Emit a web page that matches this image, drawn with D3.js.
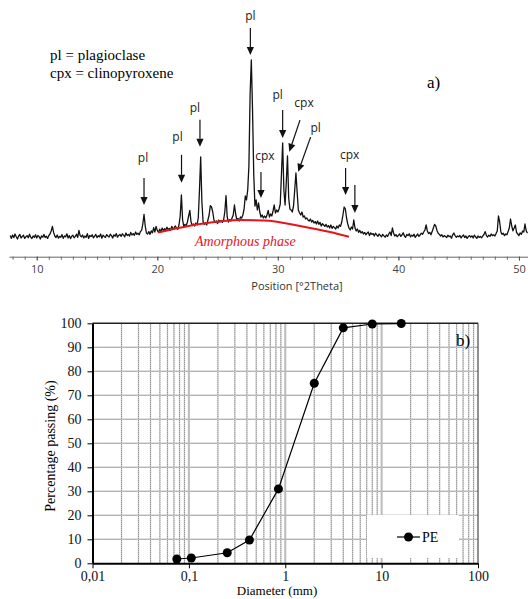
<!DOCTYPE html>
<html>
<head>
<meta charset="utf-8">
<script src="https://cdn.jsdelivr.net/npm/d3@7"></script>
<style>
body{margin:0;background:#fff;}
svg{display:block;}
</style>
</head>
<body>
<script>
//---- panel a: XRD pattern ----
//counts, one value every 0.1 deg from 7.8 deg
var twoThetaStart = 7.8,
    twoThetaStep = 0.1;

var intensity = [
    72, 58,
    75, 62, 80, 66, 55, 70, 78, 60, 68, 74,       // 8
    58, 66, 72, 61, 79, 64, 57, 70, 63, 76,       // 9
    60, 73, 67, 55, 71, 64, 78, 62, 69, 58,       // 10
    72, 80, 95, 118, 88, 70, 62, 75, 59, 68,      // 11
    64, 77, 58, 70, 66, 81, 60, 72, 57, 69,       // 12
    74, 61, 68, 79, 63, 98, 72, 66, 75, 60,       // 13
    70, 64, 82, 58, 73, 67, 76, 61, 69, 78,       // 14
    62, 71, 66, 80, 59, 74, 68, 63, 77, 70,       // 15
    65, 79, 72, 60, 76, 69, 82, 64, 73, 78,       // 16
    68, 81, 74, 66, 85, 72, 78, 70, 88, 75,       // 17
    82, 73, 90, 78, 84, 76, 92, 98, 130, 178,     // 18
    120, 85, 80, 92, 78, 96, 86, 112, 90, 118,    // 19
    98, 88, 104, 92, 110, 97, 106, 100, 114, 103, // 20
    108, 98, 118, 106, 112, 120, 110, 104, 125, 170, // 21
    275, 150, 118, 128, 122, 140, 170, 198, 140, 122, // 22
    130, 120, 135, 125, 160, 300, 465, 240, 140, 128, // 23
    135, 125, 150, 175, 222, 215, 190, 150, 138, 145, // 24
    132, 150, 140, 148, 138, 150, 190, 272, 165, 140, // 25
    152, 145, 160, 175, 225, 180, 150, 158, 145, 165, // 26
    160, 175, 205, 270, 250, 300, 420, 780, 950, 700, // 27
    380, 220, 250, 200, 235, 190, 165, 175, 160, 170, // 28
    160, 175, 198, 165, 180, 170, 195, 225, 185, 200, // 29
    190, 205, 230, 380, 535, 300, 225, 340, 470, 260, // 30
    205, 200, 190, 220, 300, 385, 290, 200, 185, 175, // 31
    190, 165, 170, 155, 160, 150, 145, 155, 140, 148, // 32
    135, 142, 130, 145, 128, 138, 120, 132, 125, 118, // 33
    128, 115, 122, 110, 125, 108, 118, 112, 105, 120, // 34
    110, 125, 118, 140, 175, 215, 205, 160, 130, 110, // 35
    100, 115, 105, 150, 110, 95, 105, 88, 98, 85,     // 36
    92, 80, 88, 76, 84, 90, 72, 86, 78, 82,           // 37
    70, 84, 76, 68, 80, 73, 66, 78, 71, 64,           // 38
    75, 68, 80, 90, 72, 110, 85, 70, 77, 66,          // 39
    73, 80, 68, 75, 86, 70, 64, 78, 72, 81,           // 40
    66, 74, 69, 79, 63, 72, 80, 68, 75, 84,           // 41
    78, 90, 100, 125, 95, 82, 88, 76, 92, 110,        // 42
    128, 120, 98, 84, 78, 70, 76, 65, 72, 68,         // 43
    62, 74, 67, 70, 59, 76, 85, 72, 64, 70,           // 44
    66, 73, 60, 69, 75, 62, 70, 58, 67, 72,           // 45
    64, 71, 60, 74, 66, 58, 70, 63, 68, 61,           // 46
    70, 78, 92, 72, 65, 74, 68, 80, 72, 76,           // 47
    70, 82, 95, 170, 140, 90, 78, 84, 72, 80,         // 48
    76, 92, 110, 155, 120, 96, 110, 125, 88, 80,      // 49
    72, 86, 78, 95, 90, 130, 96, 84                   // 50
];

//red amorphous hump
var amorphousTheta = [20.07, 23.55, 26.87, 28.86, 31.84, 34.33, 35.9];
var amorphousCounts = [87, 130, 150, 148, 120, 90, 66];

//peak annotations (arrow tip in data units)
var peakLabels = ["pl", "pl", "pl", "pl", "cpx", "pl", "cpx", "pl", "cpx", ""];
var peakTheta = [18.9, 22.01, 23.54, 27.72, 28.6, 30.4, 30.95, 31.69, 35.62, 36.39];
var peakTipCounts = [225, 336, 516, 975, 260, 560, 491, 391, 275, 185];

var xrdTicks = [10, 20, 30, 40, 50];

//---- panel b: grain size distribution ----
var diameter = [0.075, 0.106, 0.25, 0.425, 0.85, 2, 4, 8, 16];
var passing = [1.8, 2.2, 4.4, 9.7, 31, 75, 98.1, 99.7, 99.9];
var diameterTicks = [0.01, 0.1, 1, 10, 100];
var diameterTickLabels = ["0,01", "0,1", "1", "10", "100"];
var passingTicks = [0, 10, 20, 30, 40, 50, 60, 70, 80, 90, 100];


var width = 528,
    height = 599;

var svg = d3.select('body')
    .append('svg')
    .attr('width', width)
    .attr('height', height);

var serif = "'Liberation Serif', 'Times New Roman', serif",
    sans = "'Open Sans', 'DejaVu Sans', sans-serif";

//==== panel a ====
var x1 = d3.scaleLinear().domain([7.7, 50.75]).range([9, 528]);
var y1 = d3.scaleLinear().domain([0, 1000]).range([250, 50]);

var trace = intensity.map(function(v, i){
    return [twoThetaStart + i * twoThetaStep, v];
});

svg.append('path')
    .datum(trace)
    .attr('fill', 'none')
    .attr('stroke', '#111')
    .attr('stroke-width', 1.3)
    .attr('stroke-linejoin', 'round')
    .attr('d', d3.line()
        .x(function(d){ return x1(d[0]); })
        .y(function(d){ return y1(d[1]); }));

var hump = amorphousTheta.map(function(t, i){ return [t, amorphousCounts[i]]; });
svg.append('path')
    .datum(hump)
    .attr('fill', 'none')
    .attr('stroke', '#e8141b')
    .attr('stroke-width', 2)
    .attr('d', d3.line()
        .curve(d3.curveMonotoneX)
        .x(function(d){ return x1(d[0]); })
        .y(function(d){ return y1(d[1]); }));

svg.append('text')
    .attr('x', 195)
    .attr('y', 246)
    .attr('fill', '#e8141b')
    .style('font-family', serif)
    .style('font-style', 'italic')
    .style('font-size', '14px')
    .text('Amorphous phase');

//x axis of the diffractogram
var axisY = 256.7;
var minor = svg.append('g')
    .attr('transform', 'translate(0,' + axisY + ')')
    .call(d3.axisBottom(x1)
        .tickValues(d3.range(8, 51, 1))
        .tickSize(3)
        .tickSizeOuter(0)
        .tickFormat(''));
minor.select('.domain').attr('stroke', '#666');
minor.selectAll('.tick line').attr('stroke', '#666');

var major = svg.append('g')
    .attr('transform', 'translate(0,' + axisY + ')')
    .call(d3.axisBottom(x1)
        .tickValues(xrdTicks)
        .tickSize(4)
        .tickSizeOuter(0)
        .tickPadding(5));
major.select('.domain').remove();
major.selectAll('.tick line').attr('stroke', '#555');
major.selectAll('.tick text')
    .attr('fill', '#444')
    .style('font-family', sans)
    .style('font-size', '11px');

svg.append('text')
    .attr('x', 297)
    .attr('y', 290)
    .attr('text-anchor', 'middle')
    .attr('fill', '#333')
    .style('font-family', sans)
    .style('font-size', '11px')
    .text('Position [°2Theta]');

//arrows: tail offset from tip, label offset from tail
var arrowLayout = [
    {tail: [0, -27], label: [-1, -16]},
    {tail: [0, -28], label: [-4, -14]},
    {tail: [0, -27], label: [-5, -8]},
    {tail: [0, -27], label: [0, -8]},
    {tail: [0, -26], label: [4, -12]},
    {tail: [0, -28], label: [-5, -11]},
    {tail: [10.7, -31.7], label: [4, -13]},
    {tail: [12.4, -34.7], label: [5, -5]},
    {tail: [0, -27], label: [4, -9]},
    {tail: [0, -28], label: [0, 0]}
];

var ann = svg.append('g');
peakTheta.forEach(function(t, i){
    var tx = x1(t),
        ty = y1(peakTipCounts[i]),
        lay = arrowLayout[i],
        sx = tx + lay.tail[0],
        sy = ty + lay.tail[1];
    var ang = Math.atan2(ty - sy, tx - sx);
    var hl = 8, hw = 3.6;
    var bx = tx - hl * Math.cos(ang),
        by = ty - hl * Math.sin(ang);
    ann.append('line')
        .attr('x1', sx).attr('y1', sy)
        .attr('x2', bx).attr('y2', by)
        .attr('stroke', '#111')
        .attr('stroke-width', 1.2);
    ann.append('path')
        .attr('d', 'M' + tx + ',' + ty +
            'L' + (bx + hw * Math.sin(ang)) + ',' + (by - hw * Math.cos(ang)) +
            'L' + (bx - hw * Math.sin(ang)) + ',' + (by + hw * Math.cos(ang)) + 'Z')
        .attr('fill', '#111');
    if (peakLabels[i]) {
        ann.append('text')
            .attr('x', sx + lay.label[0])
            .attr('y', sy + lay.label[1])
            .attr('text-anchor', 'middle')
            .attr('fill', '#222')
            .style('font-family', sans)
            .style('font-size', '12px')
            .text(peakLabels[i]);
    }
});

//key text and panel letter
svg.append('text')
    .attr('x', 50).attr('y', 60)
    .style('font-family', serif).style('font-size', '15px')
    .text('pl = plagioclase');
svg.append('text')
    .attr('x', 50).attr('y', 78)
    .style('font-family', serif).style('font-size', '15px')
    .text('cpx = clinopyroxene');
svg.append('text')
    .attr('x', 427).attr('y', 88)
    .style('font-family', serif).style('font-size', '17px')
    .text('a)');

//==== panel b ====
var x2 = d3.scaleLog().domain([0.01, 100]).range([92.5, 478]);
var y2 = d3.scaleLinear().domain([0, 100]).range([563.3, 323.3]);

var grid = svg.append('g');
var allLogTicks = x2.ticks();
var decades = [0.1, 1, 10];
var minorTicks = allLogTicks.filter(function(v){
    var k = Math.round(v / Math.pow(10, Math.floor(Math.log10(v) + 1e-9)));
    return k !== 1;
});

//horizontal grid
passingTicks.slice(1, -1).forEach(function(p){
    grid.append('line')
        .attr('x1', x2(0.01)).attr('x2', x2(100))
        .attr('y1', y2(p)).attr('y2', y2(p))
        .attr('stroke', '#ddd').attr('stroke-width', 1.5);
    grid.append('line')
        .attr('x1', x2(0.01)).attr('x2', x2(100))
        .attr('y1', y2(p)).attr('y2', y2(p))
        .attr('stroke', '#777').attr('stroke-width', 1)
        .attr('stroke-dasharray', '1,1');
});

//vertical grid
minorTicks.forEach(function(d){
    grid.append('line')
        .attr('x1', x2(d)).attr('x2', x2(d))
        .attr('y1', y2(0)).attr('y2', y2(100))
        .attr('stroke', '#ddd').attr('stroke-width', 1.5);
    grid.append('line')
        .attr('x1', x2(d)).attr('x2', x2(d))
        .attr('y1', y2(0)).attr('y2', y2(100))
        .attr('stroke', '#777').attr('stroke-width', 1)
        .attr('stroke-dasharray', '1,1');
});
decades.forEach(function(d){
    grid.append('line')
        .attr('x1', x2(d)).attr('x2', x2(d))
        .attr('y1', y2(0)).attr('y2', y2(100))
        .attr('stroke', '#bbb').attr('stroke-width', 2);
});

//legend box hides the grid under it
svg.append('rect')
    .attr('x', 367).attr('y', 515)
    .attr('width', 92).attr('height', 43)
    .attr('fill', '#fff');

//frame
svg.append('line')
    .attr('x1', x2(0.01)).attr('x2', x2(100))
    .attr('y1', y2(100)).attr('y2', y2(100))
    .attr('stroke', '#222').attr('stroke-width', 1.5);
svg.append('line')
    .attr('x1', x2(100)).attr('x2', x2(100))
    .attr('y1', y2(0)).attr('y2', y2(100))
    .attr('stroke', '#222').attr('stroke-width', 1);

//series
var pts = diameter.map(function(d, i){ return [d, passing[i]]; });
svg.append('path')
    .datum(pts)
    .attr('fill', 'none')
    .attr('stroke', '#000')
    .attr('stroke-width', 1.2)
    .attr('d', d3.line()
        .x(function(d){ return x2(d[0]); })
        .y(function(d){ return y2(d[1]); }));
svg.selectAll('.pt')
    .data(pts)
    .enter()
    .append('circle')
    .attr('class', 'pt')
    .attr('cx', function(d){ return x2(d[0]); })
    .attr('cy', function(d){ return y2(d[1]); })
    .attr('r', 4.5)
    .attr('fill', '#000');

//axes
var yAxis = svg.append('g')
    .attr('transform', 'translate(' + x2(0.01) + ',0)')
    .call(d3.axisLeft(y2)
        .tickValues(passingTicks)
        .tickSize(5)
        .tickSizeOuter(0)
        .tickPadding(6));
yAxis.select('.domain').attr('stroke', '#000').attr('stroke-width', 2);
yAxis.selectAll('.tick line').attr('stroke', '#000');
yAxis.selectAll('.tick text')
    .attr('fill', '#111')
    .style('font-family', serif)
    .style('font-size', '14px');

var xAxis = svg.append('g')
    .attr('transform', 'translate(0,' + y2(0) + ')')
    .call(d3.axisBottom(x2)
        .tickValues(diameterTicks)
        .tickFormat(function(d, i){ return diameterTickLabels[i]; })
        .tickSize(5)
        .tickSizeOuter(0)
        .tickPadding(3));
xAxis.select('.domain').attr('stroke', '#000').attr('stroke-width', 2);
xAxis.selectAll('.tick line').attr('stroke', '#000');
xAxis.selectAll('.tick text')
    .attr('fill', '#111')
    .style('font-family', serif)
    .style('font-size', '14px');

svg.append('text')
    .attr('x', 277).attr('y', 595)
    .attr('text-anchor', 'middle')
    .style('font-family', serif).style('font-size', '13px')
    .text('Diameter (mm)');
svg.append('text')
    .attr('transform', 'translate(55,446) rotate(-90)')
    .attr('text-anchor', 'middle')
    .style('font-family', serif).style('font-size', '14px')
    .text('Percentage passing (%)');

//legend
svg.append('line')
    .attr('x1', 397).attr('x2', 420)
    .attr('y1', 537).attr('y2', 537)
    .attr('stroke', '#000').attr('stroke-width', 1.2);
svg.append('circle')
    .attr('cx', 408.5).attr('cy', 537).attr('r', 4.5)
    .attr('fill', '#000');
svg.append('text')
    .attr('x', 422).attr('y', 542)
    .style('font-family', serif).style('font-size', '14px')
    .text('PE');

svg.append('text')
    .attr('x', 456).attr('y', 346)
    .style('font-family', serif).style('font-size', '17px')
    .text('b)');
</script>
</body>
</html>
